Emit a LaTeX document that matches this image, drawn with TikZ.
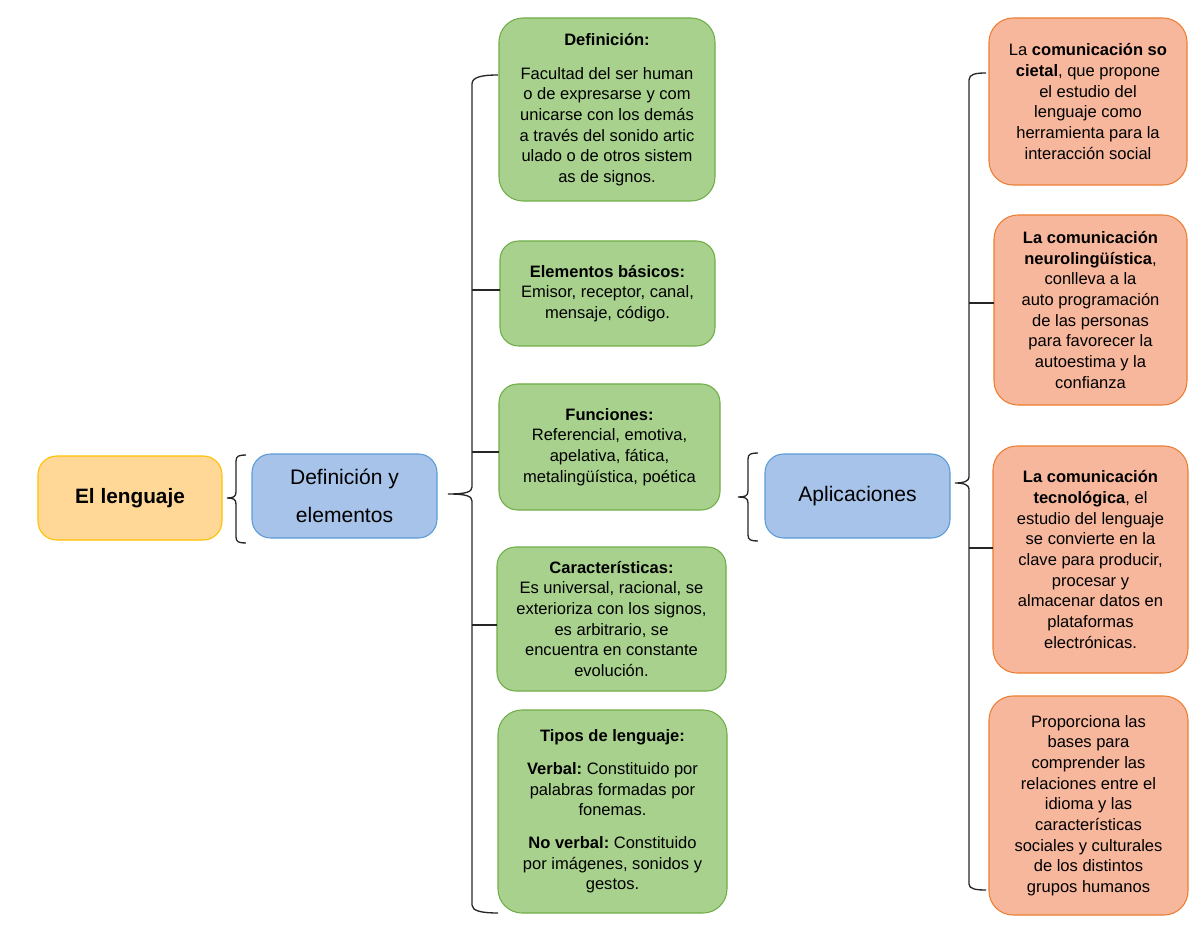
\documentclass[tikz,border=0pt]{standalone}
\usepackage{fontspec}
\setmainfont{Liberation Sans}
\usetikzlibrary{positioning}
\frenchspacing

\definecolor{lenguajeFill}{HTML}{FFD796}
\definecolor{lenguajeLine}{HTML}{FFC000}
\definecolor{azulFill}{HTML}{A7C3E9}
\definecolor{azulLine}{HTML}{5B9BD5}
\definecolor{verdeFill}{HTML}{A9D18E}
\definecolor{verdeLine}{HTML}{70AD47}
\definecolor{salmonFill}{HTML}{F6B79D}
\definecolor{salmonLine}{HTML}{ED7D31}

\begin{document}
\begin{tikzpicture}[
    x=0.75pt, y=-0.75pt,
    box/.style={draw, rounded corners=14pt, line width=0.8pt, inner sep=0pt, outer sep=0pt,
      align=center, font=\fontsize{12.4}{15.5}\selectfont},
    raiz/.style={box, fill=lenguajeFill, draw=lenguajeLine, minimum width=138pt, minimum height=63pt,
      font=\fontsize{15.6}{18}\selectfont\bfseries},
    rama/.style={box, fill=azulFill, draw=azulLine, minimum width=138.75pt, minimum height=63pt,
      font=\fontsize{15.8}{28.5}\selectfont},
    hoja/.style={box, fill=verdeFill, draw=verdeLine},
    aplic/.style={box, fill=salmonFill, draw=salmonLine},
    brace/.style={draw=black!85, line width=1pt}
  ]
  \useasboundingbox (0,0) rectangle (1200,927);

  % raiz y ramas
  \node[raiz] (lenguaje) at (130,498) {El lenguaje};
  \node[rama] (defel) at (344.5,496) {Definición y\\elementos};
  \node[rama] (apl) at (857.5,496) {Aplicaciones};

  % definicion y elementos
  \node[hoja, minimum width=162pt, minimum height=137.25pt, rounded corners=18pt] (def) at (607,109.5)
    {\textbf{Definición:}\\[10pt]Facultad del ser human\\o de expresarse y com\\unicarse con los demás\\a través del sonido artic\\ulado o de otros sistem\\as de signos.};
  \node[hoja, minimum width=161.25pt, minimum height=78.75pt] (elem) at (607.5,293.5)
    {\textbf{Elementos básicos:}\\Emisor, receptor, canal,\\mensaje, código.};
  \node[hoja, minimum width=165.75pt, minimum height=94.5pt] (func) at (609.5,447)
    {\textbf{Funciones:}\\Referencial, emotiva,\\apelativa, fática,\\metalingüística, poética};
  \node[hoja, minimum width=171.75pt, minimum height=108pt] (carac) at (611.5,619)
    {\textbf{Características:}\\Es universal, racional, se\\exterioriza con los signos,\\es arbitrario, se\\encuentra en constante\\evolución.};
  \node[hoja, minimum width=171.75pt, minimum height=152.25pt, rounded corners=18pt] (tipos) at (612.5,811.5)
    {\textbf{Tipos de lenguaje:}\\[9pt]\textbf{Verbal:} Constituido por\\palabras formadas por\\fonemas.\\[9pt]\textbf{No verbal:} Constituido\\por imágenes, sonidos y\\gestos.};

  % aplicaciones
  \node[aplic, minimum width=148.5pt, minimum height=125.25pt, rounded corners=18pt] (soc) at (1088,101.5)
    {La \textbf{comunicación so}\\\textbf{cietal}, que propone\\el estudio del\\lenguaje como\\herramienta para la\\interacción social};
  \node[aplic, minimum width=144.75pt, minimum height=142.5pt, rounded corners=18pt] (neuro) at (1090.5,310)
    {\textbf{La comunicación}\\\textbf{neurolingüística},\\conlleva a la\\auto programación\\de las personas\\para favorecer la\\autoestima y la\\confianza};
  \node[aplic, minimum width=146.25pt, minimum height=170.25pt, rounded corners=18pt] (tecno) at (1090.5,559.5)
    {\textbf{La comunicación}\\\textbf{tecnológica}, el\\estudio del lenguaje\\se convierte en la\\clave para producir,\\procesar y\\almacenar datos en\\plataformas\\electrónicas.};
  \node[aplic, minimum width=149.25pt, minimum height=164.25pt, rounded corners=18pt] (bases) at (1088.5,805.5)
    {Proporciona las\\bases para\\comprender las\\relaciones entre el\\idioma y las\\características\\sociales y culturales\\de los distintos\\grupos humanos};

  % llaves
  \coordinate (spineA) at (472,494);
  \coordinate (spineB) at (969,483);

  \draw[brace] (246,455) .. controls (239,455) and (236,456) .. (236,461) -- (236,492)
    .. controls (236,497) and (233,498) .. (227,498) .. controls (233,498) and (236,499) .. (236,504)
    -- (236,537) .. controls (236,542) and (239,543) .. (246,543);

  \draw[brace] (758,453) .. controls (751,453) and (748,454) .. (748,459) -- (748,491)
    .. controls (748,496) and (745,497) .. (738,497) .. controls (745,497) and (748,498) .. (748,503)
    -- (748,535) .. controls (748,540) and (751,541) .. (758,541);

  \draw[brace] (498,75) .. controls (482,75) and (472,77) .. (472,84) -- (472,487)
    .. controls (472,492) and (466,494) .. (448,494) .. controls (466,494) and (472,496) .. (472,501)
    -- (472,905) .. controls (472,911) and (482,913) .. (498,913);
  \draw[brace] (elem.west |- 0,290) -- (spineA |- 0,290);
  \draw[brace] (func.west |- 0,452) -- (spineA |- 0,452);
  \draw[brace] (carac.west |- 0,625) -- (spineA |- 0,625);

  \draw[brace] (986,73) .. controls (976,73) and (969,74) .. (969,80) -- (969,477)
    .. controls (969,481) and (964,483) .. (955,483) .. controls (964,483) and (969,485) .. (969,489)
    -- (969,884) .. controls (969,889) and (976,890) .. (986,890);
  \draw[brace] (neuro.west |- 0,303) -- (spineB |- 0,303);
  \draw[brace] (tecno.west |- 0,548) -- (spineB |- 0,548);
\end{tikzpicture}
\end{document}
